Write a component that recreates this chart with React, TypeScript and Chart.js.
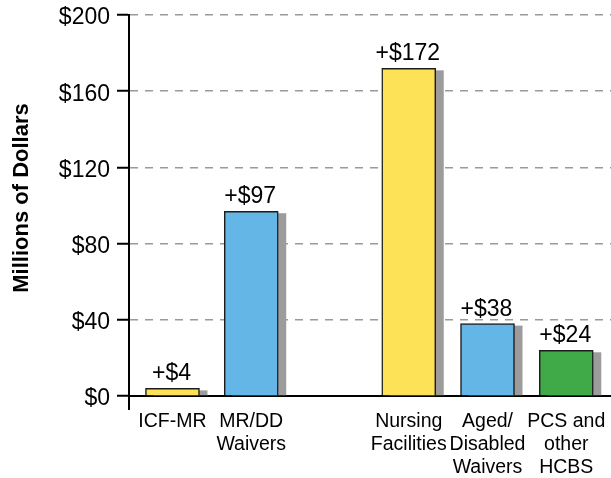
import React, { useEffect, useRef } from "react";
import { Chart, registerables } from "chart.js";

Chart.register(...registerables);

// ---- data ----
const categories: string[][] = [
  ["ICF-MR"],
  ["MR/DD", "Waivers"],
  [],
  ["Nursing", "Facilities"],
  ["Aged/", "Disabled", "Waivers"],
  ["PCS and", "other", "HCBS"],
];
const values: (number | null)[] = [4, 97, null, 172, 38, 24];
const yTicks: number[] = [0, 40, 80, 120, 160, 200];
const yTitle = "Millions of Dollars";

// ---- styles ----
const YELLOW = "#FDE257";
const BLUE = "#63B6E6";
const GREEN = "#41AA48";
const barColors: (string | null)[] = [YELLOW, BLUE, null, YELLOW, BLUE, GREEN];
const FONT = "'Liberation Sans', Arial, Helvetica, sans-serif";

export default function App() {
  const ref = useRef<HTMLCanvasElement | null>(null);

  useEffect(() => {
    if (!ref.current) return;
    const idx = values.map((v, i) => (v == null ? -1 : i)).filter((i) => i >= 0);
    const points = idx.map((i) => ({ x: i, y: values[i] as number }));
    const colors = idx.map((i) => barColors[i] as string);

    const decor = {
      id: "decor",
      beforeDatasetsDraw(chart: any) {
        const ctx = chart.ctx;
        const meta = chart.getDatasetMeta(0);
        ctx.save();
        ctx.fillStyle = "#9c9c9c";
        meta.data.forEach((bar: any) => {
          const { x, y, base, width } = bar.getProps(["x", "y", "base", "width"], true);
          ctx.fillRect(x - width / 2 + 8, y + 2, width, base - y - 2);
        });
        ctx.restore();
      },
      afterDatasetsDraw(chart: any) {
        const ctx = chart.ctx;
        const meta = chart.getDatasetMeta(0);
        ctx.save();
        ctx.fillStyle = "#000";
        ctx.font = `23px ${FONT}`;
        ctx.textAlign = "center";
        ctx.textBaseline = "alphabetic";
        meta.data.forEach((bar: any, k: number) => {
          const { x, y } = bar.getProps(["x", "y"], true);
          ctx.fillText("+$" + points[k].y, x - 1, y - 8);
        });
        ctx.restore();
      },
      afterDraw(chart: any) {
        const ctx = chart.ctx;
        const { left, bottom } = chart.chartArea;
        ctx.save();
        ctx.strokeStyle = "#000";
        ctx.lineWidth = 2;
        ctx.beginPath();
        ctx.moveTo(Math.round(left), bottom);
        ctx.lineTo(Math.round(left), bottom + 14);
        ctx.stroke();
        // y-axis title
        ctx.translate(22, 198);
        ctx.rotate(-Math.PI / 2);
        ctx.fillStyle = "#000";
        ctx.font = `bold 22px ${FONT}`;
        ctx.textAlign = "center";
        ctx.textBaseline = "middle";
        ctx.fillText(yTitle, 0, 0);
        ctx.restore();
      },
    };

    const chart = new Chart(ref.current, {
      type: "bar",
      data: {
        datasets: [
          {
            data: points,
            backgroundColor: colors,
            borderColor: "#1c1c1c",
            borderWidth: 1.5,
            barThickness: 54,
          } as any,
        ],
      },
      options: {
        animation: false,
        responsive: false,
        devicePixelRatio: 1,
        layout: { padding: { top: 15, left: 0, right: 0, bottom: 0 } },
        plugins: { legend: { display: false }, tooltip: { enabled: false } },
        scales: {
          x: {
            type: "linear",
            min: -0.552,
            max: 5.568,
            offset: false,
            z: 1,
            afterBuildTicks: (s: any) => {
              s.ticks = idx.map((i) => ({ value: i }));
            },
            afterFit: (s: any) => {
              s.height = 82;
              s.paddingLeft = 0;
              s.paddingRight = 0;
            },
            grid: { display: false, drawTicks: false, offset: false },
            border: { display: true, color: "#000", width: 2 },
            ticks: {
              autoSkip: false,
              maxRotation: 0,
              minRotation: 0,
              padding: 14,
              color: "#000",
              font: { family: FONT, size: 19.5, lineHeight: 1.18 },
              callback: (v: any) => categories[Math.round(Number(v))] || "",
            },
          } as any,
          y: {
            min: 0,
            max: 200,
            afterBuildTicks: (s: any) => {
              s.ticks = yTicks.map((v) => ({ value: v }));
            },
            afterFit: (s: any) => {
              s.width = 129;
              s.paddingTop = 0;
              s.paddingBottom = 0;
            },
            grid: {
              color: (c: any) => (c.tick && c.tick.value === 0 ? "rgba(0,0,0,0)" : "#9a9a9a"),
              lineWidth: 1.5,
              drawTicks: true,
              tickLength: 12,
              tickColor: "#000",
              tickWidth: 2,
            },
            border: { display: true, color: "#000", width: 2, dash: [8, 7] },
            ticks: {
              padding: 7,
              color: "#000",
              labelOffset: 3,
              font: { family: FONT, size: 23 },
              callback: (v: any) => "$" + v,
            },
          } as any,
        },
      },
      plugins: [decor],
    });
    return () => chart.destroy();
  }, []);

  return (
    <div style={{ position: "fixed", left: 0, top: 0, width: 611, height: 478, background: "#fff" }}>
      <canvas ref={ref} width={611} height={478} style={{ display: "block" }} />
    </div>
  );
}
